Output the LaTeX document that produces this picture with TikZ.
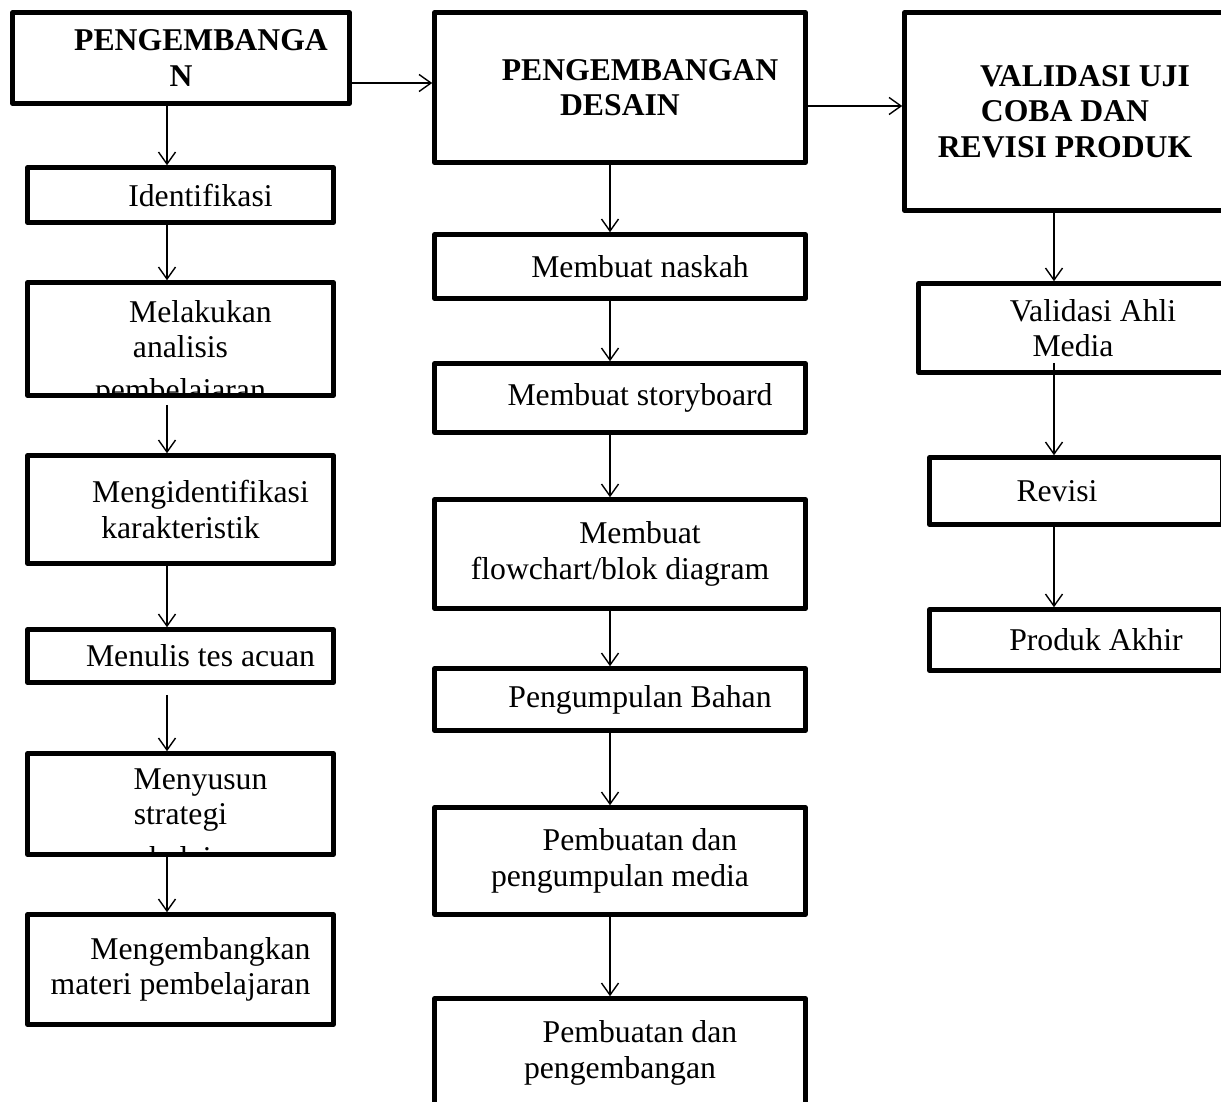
\documentclass[tikz,border=0pt]{standalone}
\usepackage{fontspec}
\setmainfont{Liberation Serif}
\usetikzlibrary{arrows.meta}

\newcommand\bodyfont{\fontsize{31.7}{35.5}\selectfont}
\newcommand\firstind{\hspace*{40pt}}

\tikzset{
  box/.style={draw, line width=4.5pt, line join=round, inner sep=0pt, align=center, font=\bodyfont},
  head/.style={box, font=\bodyfont\bfseries},
  txt/.style={inner sep=0pt, align=center, font=\bodyfont},
  flow/.style={line width=1.4pt, -{Straight Barb[length=12pt,width=17pt]}},
}

\begin{document}
\begin{tikzpicture}[x=1pt,y=-1pt]
\useasboundingbox (0,0) rectangle (1221,1102);
\clip (0,0) rectangle (1221,1102);

\coordinate (colL) at (167,0);
\coordinate (colM) at (610,0);
\coordinate (colR) at (1054,0);
\coordinate (rowA) at (0,83);
\coordinate (rowB) at (0,106);

% kolom kiri
\node[head, minimum width=337pt, minimum height=91pt] (pengembangan) at (181,58) {\firstind PENGEMBANGA\\N};
\node[box, minimum width=306pt, minimum height=55pt] (identifikasi) at (180.5,195) {\firstind Identifikasi};
\node[box, minimum width=306pt, minimum height=113pt] (analisis) at (180.5,339) {};
\begin{scope}
\clip ([shift={(4.5pt,-4.5pt)}]analisis.north west) rectangle ([shift={(-4.5pt,4.5pt)}]analisis.south east);
\node[txt, anchor=north] (analisisteks) at ([yshift=-20pt]analisis.north) {\firstind Melakukan\\analisis\\[7pt]pembelajaran};
\end{scope}
\node[box, minimum width=306pt, minimum height=108pt] (karakteristik) at (180.5,509.5) {\firstind Mengidentifikasi\\karakteristik};
\node[box, minimum width=306pt, minimum height=53pt] (tes) at (180.5,656) {\firstind Menulis tes acuan};
\node[box, minimum width=306pt, minimum height=101pt] (strategi) at (180.5,804) {};
\begin{scope}
\clip ([shift={(4.5pt,-4.5pt)}]strategi.north west) rectangle ([shift={(-4.5pt,4.5pt)}]strategi.south east);
\node[txt, anchor=north] (strategiteks) at ([yshift=-17pt]strategi.north) {\firstind Menyusun\\strategi\\[8pt]pembelajaran};
\end{scope}
\node[box, minimum width=306pt, minimum height=110pt] (materi) at (180.5,969.5) {\firstind Mengembangkan\\materi pembelajaran};

% kolom tengah
\node[head, minimum width=371pt, minimum height=150pt] (desain) at (620,87.5) {\firstind PENGEMBANGAN\\DESAIN};
\node[box, minimum width=371pt, minimum height=64pt] (naskah) at (620,266.5) {\firstind Membuat naskah};
\node[box, minimum width=371pt, minimum height=69pt] (storyboard) at (620,398) {\firstind Membuat storyboard};
\node[box, minimum width=371pt, minimum height=109pt] (flowchart) at (620,554) {\firstind Membuat\\flowchart/blok diagram};
\node[box, minimum width=371pt, minimum height=62pt] (bahan) at (620,699.5) {\firstind Pengumpulan Bahan};
\node[box, minimum width=371pt, minimum height=107pt] (media) at (620,861) {\firstind Pembuatan dan\\pengumpulan media};
\node[box, minimum width=371pt, minimum height=109pt] (pengembangan2) at (620,1053) {\firstind Pembuatan dan\\pengembangan};

% kolom kanan
\node[head, minimum width=321pt, minimum height=198pt] (validasi) at (1065,111.5) {\firstind VALIDASI UJI\\COBA DAN\\REVISI PRODUK};
\node[box, minimum width=309pt, minimum height=89pt] (ahli) at (1073,328) {\firstind Validasi Ahli\\Media};
\node[box, minimum width=293pt, minimum height=67pt] (revisi) at (1076,491) {Revisi\hspace*{38pt}};
\node[box, minimum width=293pt, minimum height=61pt] (produk) at (1076,640) {\firstind Produk Akhir};

% panah
\draw[flow] (pengembangan.east |- rowA) -- (desain.west |- rowA);
\draw[flow] (desain.east |- rowB) -- (validasi.west |- rowB);

\draw[flow] (pengembangan.south -| colL) -- (identifikasi.north -| colL);
\draw[flow] (identifikasi.south -| colL) -- (analisis.north -| colL);
\draw[flow, shorten <=7pt] (analisis.south -| colL) -- (karakteristik.north -| colL);
\draw[flow] (karakteristik.south -| colL) -- (tes.north -| colL);
\draw[flow, shorten <=10pt] (tes.south -| colL) -- (strategi.north -| colL);
\draw[flow] (strategi.south -| colL) -- (materi.north -| colL);

\draw[flow] (desain.south -| colM) -- (naskah.north -| colM);
\draw[flow] (naskah.south -| colM) -- (storyboard.north -| colM);
\draw[flow] (storyboard.south -| colM) -- (flowchart.north -| colM);
\draw[flow] (flowchart.south -| colM) -- (bahan.north -| colM);
\draw[flow] (bahan.south -| colM) -- (media.north -| colM);
\draw[flow] (media.south -| colM) -- (pengembangan2.north -| colM);

\draw[flow] (validasi.south -| colR) -- (ahli.north -| colR);
\draw[flow] (ahli.south -| colR) ++(0,-12) -- (revisi.north -| colR);
\draw[flow] (revisi.south -| colR) -- (produk.north -| colR);

\end{tikzpicture}
\end{document}
